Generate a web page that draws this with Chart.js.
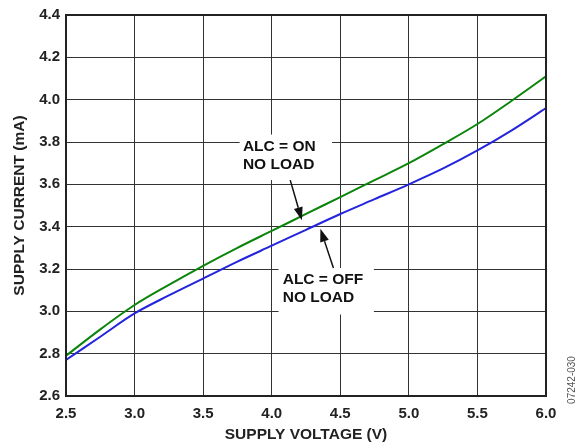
<!DOCTYPE html>
<html>
<head>
<meta charset="utf-8">
<script src="https://cdn.jsdelivr.net/npm/chart.js@4.4.0/dist/chart.umd.min.js"></script>
<style>
  html, body { margin: 0; padding: 0; background: #fff; }
  #wrap { width: 586px; height: 448px; position: relative; }
</style>
</head>
<body>
<div id="wrap"><canvas id="c" width="586" height="448"></canvas></div>
<script>
// supply voltage (V)
const voltage = [2.5, 2.75, 3.0, 3.25, 3.5, 3.75, 4.0, 4.25, 4.5, 4.75, 5.0, 5.25, 5.5, 5.75, 6.0];
// supply current (mA), ALC on / off, no load
const alcOn  = [2.79, 2.915, 3.03, 3.125, 3.215, 3.30, 3.38, 3.46, 3.54, 3.62, 3.70, 3.79, 3.885, 3.995, 4.11];
const alcOff = [2.77, 2.88, 2.99, 3.075, 3.155, 3.235, 3.31, 3.385, 3.46, 3.53, 3.60, 3.675, 3.76, 3.855, 3.96];

const xTicks = [2.5, 3.0, 3.5, 4.0, 4.5, 5.0, 5.5, 6.0];
const yTicks = [2.6, 2.8, 3.0, 3.2, 3.4, 3.6, 3.8, 4.0, 4.2, 4.4];

const FONT = 'Liberation Sans, Arial, sans-serif';

const toPoints = vals => voltage.map((v, i) => ({ x: v, y: vals[i] }));

// label boxes + arrows, placed in data units
const labels = [
  { box: [3.766, 4.44, 3.835, 3.62], lines: ['ALC = ON', 'NO LOAD'], at: [3.79, 3.78], arrow: [[4.135, 3.62], [4.22, 3.43]] },
  { box: [4.05, 4.745, 3.205, 2.985], lines: ['ALC = OFF', 'NO LOAD'], at: [4.08, 3.15], arrow: [[4.45, 3.205], [4.355, 3.39]] }
];

const annot = {
  id: 'annot',
  beforeDatasetsDraw(chart) {
    const { ctx, scales: { x, y } } = chart;
    ctx.save();
    ctx.fillStyle = '#fff';
    labels.forEach(l => {
      const [x0, x1, y0, y1] = l.box;
      ctx.fillRect(x.getPixelForValue(x0), y.getPixelForValue(y0),
        x.getPixelForValue(x1) - x.getPixelForValue(x0), y.getPixelForValue(y1) - y.getPixelForValue(y0));
    });
    ctx.restore();
  },
  afterDatasetsDraw(chart) {
    const { ctx, scales: { x, y }, chartArea: a } = chart;
    ctx.save();
    ctx.fillStyle = '#111';
    ctx.strokeStyle = '#111';
    ctx.font = 'bold 15.5px ' + FONT;
    ctx.textBaseline = 'middle';
    labels.forEach(l => {
      const tx = x.getPixelForValue(l.at[0]);
      const ty = y.getPixelForValue(l.at[1]);
      l.lines.forEach((s, i) => ctx.fillText(s, tx, ty + i * 18));
      // arrow
      const [p, q] = l.arrow;
      const x0 = x.getPixelForValue(p[0]), y0 = y.getPixelForValue(p[1]);
      const x1 = x.getPixelForValue(q[0]), y1 = y.getPixelForValue(q[1]);
      const ang = Math.atan2(y1 - y0, x1 - x0);
      const len = 13, w = 4.5;
      const bx = x1 - len * Math.cos(ang), by = y1 - len * Math.sin(ang);
      ctx.lineWidth = 1.5;
      ctx.beginPath(); ctx.moveTo(x0, y0); ctx.lineTo(bx, by); ctx.stroke();
      ctx.beginPath();
      ctx.moveTo(x1, y1);
      ctx.lineTo(bx + w * Math.sin(ang), by - w * Math.cos(ang));
      ctx.lineTo(bx - w * Math.sin(ang), by + w * Math.cos(ang));
      ctx.closePath(); ctx.fill();
    });
    // frame
    ctx.lineWidth = 2;
    ctx.strokeStyle = '#222';
    ctx.strokeRect(a.left, a.top, a.right - a.left, a.bottom - a.top);
    ctx.restore();
  },
  afterDraw(chart) {
    const { ctx } = chart;
    ctx.save();
    ctx.translate(572, 380);
    ctx.rotate(-Math.PI / 2);
    ctx.font = '10px ' + FONT;
    ctx.fillStyle = '#555';
    ctx.textAlign = 'center';
    ctx.textBaseline = 'middle';
    ctx.fillText('07242-030', 0, 0);
    ctx.restore();
  }
};

new Chart(document.getElementById('c'), {
  type: 'scatter',
  data: {
    datasets: [
      { label: 'ALC = ON', data: toPoints(alcOn), showLine: true, borderColor: '#0a850a', borderWidth: 2, pointRadius: 0, cubicInterpolationMode: 'monotone' },
      { label: 'ALC = OFF', data: toPoints(alcOff), showLine: true, borderColor: '#2424dc', borderWidth: 2, pointRadius: 0, cubicInterpolationMode: 'monotone' }
    ]
  },
  options: {
    responsive: false,
    animation: false,
    layout: { padding: { top: 12, right: 40, left: 0, bottom: 0 } },
    plugins: { legend: { display: false }, tooltip: { enabled: false } },
    scales: {
      x: {
        type: 'linear', min: 2.5, max: 6.0,
        afterBuildTicks: s => { s.ticks = xTicks.map(v => ({ value: v })); },
        afterFit: s => { s.height = 52; },
        grid: { color: '#333', lineWidth: 1, drawTicks: false },
        border: { display: false },
        ticks: { padding: 9, color: '#222', font: { family: FONT, size: 15, weight: 'bold' }, callback: v => Number(v).toFixed(1), maxRotation: 0 },
        title: { display: true, text: 'SUPPLY VOLTAGE (V)', color: '#222', padding: { top: 0, bottom: 4 }, font: { family: FONT, size: 15.5, weight: 'bold' } }
      },
      y: {
        type: 'linear', min: 2.6, max: 4.4,
        afterBuildTicks: s => { s.ticks = yTicks.map(v => ({ value: v })); },
        afterFit: s => { s.width = 66; },
        grid: { color: '#333', lineWidth: 1, drawTicks: false },
        border: { display: false },
        ticks: { padding: 6, color: '#222', font: { family: FONT, size: 15, weight: 'bold' }, callback: v => Number(v).toFixed(1) },
        title: { display: true, text: 'SUPPLY CURRENT (mA)', color: '#222', padding: { top: 10, bottom: 0 }, font: { family: FONT, size: 15.5, weight: 'bold' } }
      }
    }
  },
  plugins: [annot]
});
</script>
</body>
</html>
